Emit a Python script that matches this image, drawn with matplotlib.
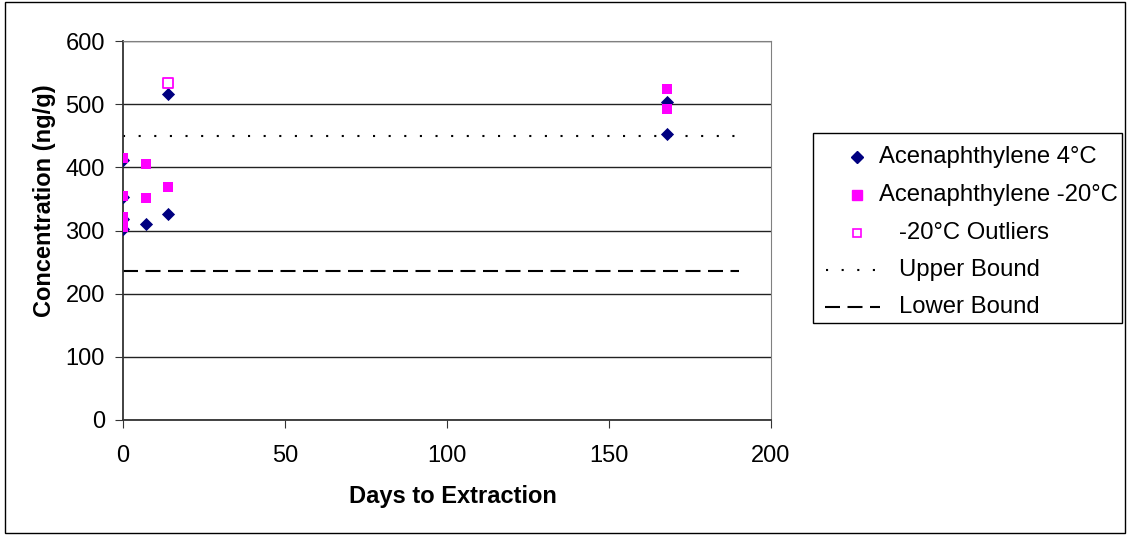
import matplotlib
matplotlib.use("Agg")
import matplotlib.pyplot as plt
from matplotlib.patches import Rectangle
from matplotlib.lines import Line2D

plt.rcParams['font.family'] = ['Liberation Sans', 'DejaVu Sans']

days_4c = [0, 0, 0, 0, 7, 14, 14, 168, 168]
conc_4c = [411, 353, 318, 302, 310, 516, 326, 503, 452]
days_m20 = [0, 0, 0, 0, 7, 7, 14, 168, 168]
conc_m20 = [414, 354, 322, 305, 405, 352, 369, 524, 492]
days_out = [14]
conc_out = [534]
bound_days = [0, 190]
upper = [450, 450]
lower = [236, 236]
legend_labels = ['Acenaphthylene 4°C', 'Acenaphthylene -20°C', '-20°C Outliers',
                 'Upper Bound', 'Lower Bound']

W, H = 1127, 535
fig = plt.figure(figsize=(W / 100, H / 100), dpi=100)
ax = fig.add_axes([123 / W, 1 - 420 / H, 648 / W, 379 / H])

DOT = (0, (1, 6.5))
DASH = (0, (7.2, 3.6))
NAVY = '#000080'
MAG = '#FF00FF'

ax.plot(bound_days, upper, linestyle=DOT, color='black', lw=1.5)
ax.plot(bound_days, lower, linestyle=DASH, color='black', lw=1.5)
ax.scatter(days_4c, conc_4c, marker='D', s=45, color=NAVY, zorder=3, linewidths=0)
ax.scatter(days_m20, conc_m20, marker='s', s=60, color=MAG, zorder=3, linewidths=0)
ax.scatter(days_out, conc_out, marker='s', s=45, facecolor='white', edgecolor=MAG, lw=1.3, zorder=3)

ax.set_xlim(0, 200)
ax.set_ylim(0, 600)
ax.set_xticks([0, 50, 100, 150, 200])
ax.set_yticks([0, 100, 200, 300, 400, 500, 600])
ax.yaxis.grid(True, color='#222222', lw=1)
ax.set_axisbelow(True)
for s in ['top', 'right']:
    ax.spines[s].set_color('#808080')
for s in ['left', 'bottom']:
    ax.spines[s].set_color('#333333')
    ax.spines[s].set_linewidth(1.3)
ax.tick_params(labelsize=17, length=6, direction='out', color='#333333')
ax.tick_params(axis='x', pad=12)
ax.tick_params(axis='y', pad=7)
ax.set_xlabel('Days to Extraction', fontsize=17, fontweight='bold', va='center')
ax.xaxis.set_label_coords((453 - 123) / 648, (420 - 497) / 379)
ax.set_ylabel('Concentration (ng/g)', fontsize=17, fontweight='bold', va='center')
ax.yaxis.set_label_coords((45 - 123) / 648, (420 - 201) / 379)


def fx(x):
    return x / W


def fy(y):
    return 1 - y / H


# legend box
fig.patches.append(Rectangle((fx(813), fy(323)), fx(1122) - fx(813), fy(133) - fy(323),
                             transform=fig.transFigure, fill=False, edgecolor='black', lw=1))
rows = [157, 195, 233, 270, 307]
fig.add_artist(Line2D([fx(857)], [fy(rows[0])], marker='D', markersize=6.5, color=NAVY, lw=0,
                      transform=fig.transFigure))
fig.add_artist(Line2D([fx(857)], [fy(rows[1])], marker='s', markersize=7, color=MAG, lw=0,
                      transform=fig.transFigure))
fig.add_artist(Line2D([fx(857)], [fy(rows[2])], marker='s', markersize=6, markerfacecolor='white',
                      markeredgecolor=MAG, markeredgewidth=1.2, lw=0, transform=fig.transFigure))
fig.add_artist(Line2D([fx(826), fx(880)], [fy(rows[3])] * 2, linestyle=DOT, color='black', lw=1.5,
                      transform=fig.transFigure))
fig.add_artist(Line2D([fx(825), fx(880)], [fy(rows[4])] * 2, linestyle=DASH, color='black', lw=1.5,
                      transform=fig.transFigure))
text_x = [879, 879, 899, 899, 899]
for lab, tx, ry in zip(legend_labels, text_x, rows):
    fig.text(fx(tx), fy(ry), lab, fontsize=17.2, va='center', ha='left')

fig.patches.append(Rectangle((fx(5), fy(533)), fx(1125) - fx(5), fy(2) - fy(533),
                             transform=fig.transFigure, fill=False, edgecolor='black', lw=1))
fig.savefig('out.png', dpi=100)
